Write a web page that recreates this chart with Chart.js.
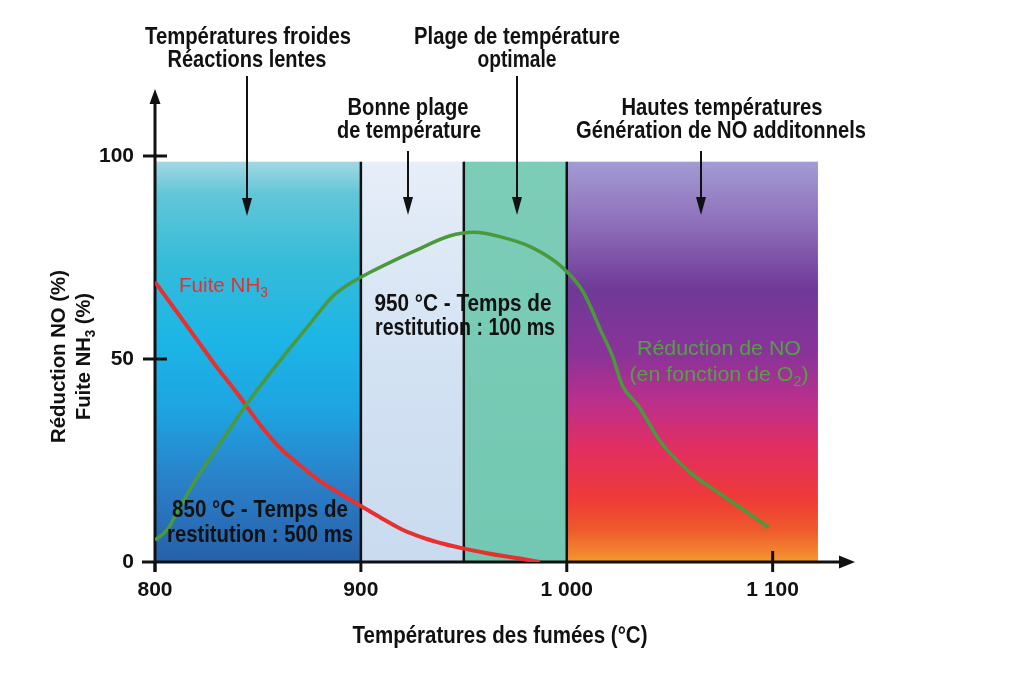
<!DOCTYPE html>
<html>
<head>
<meta charset="utf-8">
<script src="https://cdn.jsdelivr.net/npm/chart.js@4.4.0/dist/chart.umd.min.js"></script>
<style>
html,body{margin:0;padding:0;background:#fff;}
canvas{display:block;}
</style>
</head>
<body>
<canvas id="c" width="1024" height="683"></canvas>
<script>
// ---- Data ----
const nh3Temps  = [800, 810, 820, 830, 840, 850, 860, 870, 880, 890, 900, 910, 920, 930, 940, 950, 960, 970, 980, 987];
const nh3Values = [69, 62, 55, 48, 41.5, 34.5, 28.5, 24, 20, 16.8, 13.8, 10.8, 8, 6, 4.5, 3.3, 2.3, 1.4, 0.6, 0];

const noTemps  = [800, 806, 812, 822, 828, 834, 845, 861, 875, 886, 895, 905, 915, 927, 943, 955, 967, 983, 998, 1008, 1017, 1022, 1027, 1035, 1045, 1060, 1074, 1086, 1098];
const noValues = [5.4, 8, 13.5, 22, 26.5, 31, 39.2, 49.8, 58.5, 65.3, 68.7, 71.5, 74, 76.8, 80.3, 81.2, 80.2, 77.5, 72.5, 66.5, 56.5, 51, 43.5, 38.3, 30, 22, 17, 12.8, 8.5];

const xTickValues = [800, 900, 1000, 1100];
const xTickLabels = ['800', '900', '1 000', '1 100'];
const yTickValues = [0, 50, 100];
const yTickLabels = ['0', '50', '100'];

const zoneEdges = [800, 900, 950, 1000, 1122];
const zoneTop = 98.6;

const FONT = '"Liberation Sans", Arial, Helvetica, sans-serif';

function richWidth(ctx, segs, size, weight) {
  let w = 0;
  for (const s of segs) {
    ctx.font = `${weight} ${s.sub ? Math.round(size * 0.65) : size}px ${FONT}`;
    w += ctx.measureText(s.t).width;
  }
  return w;
}
function drawRich(ctx, segs, x, y, o) {
  const size = o.size || 23, weight = o.weight || 'bold';
  const nat = richWidth(ctx, segs, size, weight);
  const sx = o.w ? Math.min(1.15, o.w / nat) : 1;
  const total = nat * sx;
  const start = o.align === 'left' ? x : x - total / 2;
  ctx.save();
  ctx.translate(start, y);
  ctx.scale(sx, 1);
  ctx.fillStyle = o.color || '#111';
  ctx.textBaseline = 'alphabetic';
  ctx.textAlign = 'left';
  let cx = 0;
  for (const s of segs) {
    const fs = s.sub ? Math.round(size * 0.65) : size;
    ctx.font = `${weight} ${fs}px ${FONT}`;
    ctx.fillText(s.t, cx, s.sub ? size * 0.22 : 0);
    cx += ctx.measureText(s.t).width;
  }
  ctx.restore();
}
function drawArrowDown(ctx, x, y1, y2) {
  ctx.save();
  ctx.strokeStyle = '#111'; ctx.fillStyle = '#111'; ctx.lineWidth = 2;
  ctx.beginPath(); ctx.moveTo(x, y1); ctx.lineTo(x, y2 - 14); ctx.stroke();
  ctx.beginPath(); ctx.moveTo(x - 5, y2 - 18); ctx.lineTo(x + 5, y2 - 18); ctx.lineTo(x, y2); ctx.closePath(); ctx.fill();
  ctx.restore();
}

const backgroundPlugin = {
  id: 'bg',
  beforeDraw(chart) {
    const ctx = chart.ctx;
    ctx.save(); ctx.fillStyle = '#fff'; ctx.fillRect(0, 0, chart.width, chart.height); ctx.restore();
  },
  beforeDatasetsDraw(chart) {
    const ctx = chart.ctx, xs = chart.scales.x, ys = chart.scales.y;
    const top = ys.getPixelForValue(zoneTop), bot = ys.getPixelForValue(0);
    const px = zoneEdges.map(v => xs.getPixelForValue(v));
    ctx.save();
    // zone 1 : blue gradient
    let g = ctx.createLinearGradient(0, top, 0, bot);
    g.addColorStop(0, '#a3d8e3');
    g.addColorStop(0.08, '#62c6d8');
    g.addColorStop(0.25, '#35bcd9');
    g.addColorStop(0.45, '#1cb5e6');
    g.addColorStop(0.62, '#1ea4e1');
    g.addColorStop(0.8, '#2a80c8');
    g.addColorStop(1, '#2660aa');
    ctx.fillStyle = g; ctx.fillRect(px[0], top, px[1] - px[0], bot - top);
    // zone 2 : pale blue
    g = ctx.createLinearGradient(0, top, 0, bot);
    g.addColorStop(0, '#e6eef8');
    g.addColorStop(0.5, '#d3e2f3');
    g.addColorStop(1, '#c9dbef');
    ctx.fillStyle = g; ctx.fillRect(px[1], top, px[2] - px[1], bot - top);
    // zone 3 : teal
    g = ctx.createLinearGradient(0, top, 0, bot);
    g.addColorStop(0, '#7ccdb8');
    g.addColorStop(1, '#72c8b2');
    ctx.fillStyle = g; ctx.fillRect(px[2], top, px[3] - px[2], bot - top);
    // zone 4 : purple -> red -> orange
    g = ctx.createLinearGradient(0, top, 0, bot);
    g.addColorStop(0, '#a39bd3');
    g.addColorStop(0.15, '#8f70bb');
    g.addColorStop(0.32, '#6f3997');
    g.addColorStop(0.48, '#8a3399');
    g.addColorStop(0.6, '#bb2f8c');
    g.addColorStop(0.72, '#e22f60');
    g.addColorStop(0.84, '#ee3a38');
    g.addColorStop(0.92, '#ee5a2c');
    g.addColorStop(1, '#f3972f');
    ctx.fillStyle = g; ctx.fillRect(px[3], top, px[4] - px[3], bot - top);
    // boundaries
    ctx.strokeStyle = '#111'; ctx.lineWidth = 2.5;
    for (let i = 1; i <= 3; i++) {
      ctx.beginPath(); ctx.moveTo(px[i], top); ctx.lineTo(px[i], bot); ctx.stroke();
    }
    // axes
    const ox = xs.getPixelForValue(800), oy = bot;
    const axEndX = chart.chartArea.right, axEndY = chart.chartArea.top;
    ctx.lineWidth = 3;
    ctx.beginPath(); ctx.moveTo(ox - 13, oy); ctx.lineTo(axEndX - 10, oy); ctx.stroke();
    ctx.beginPath(); ctx.moveTo(ox, oy + 10); ctx.lineTo(ox, axEndY + 10); ctx.stroke();
    ctx.fillStyle = '#111';
    ctx.beginPath(); ctx.moveTo(axEndX, oy); ctx.lineTo(axEndX - 16, oy - 6.5); ctx.lineTo(axEndX - 16, oy + 6.5); ctx.closePath(); ctx.fill();
    ctx.beginPath(); ctx.moveTo(ox, axEndY); ctx.lineTo(ox - 5.5, axEndY + 15); ctx.lineTo(ox + 5.5, axEndY + 15); ctx.closePath(); ctx.fill();
    // tick marks
    for (const v of yTickValues) {
      if (v === 0) continue;
      const y = ys.getPixelForValue(v);
      ctx.beginPath(); ctx.moveTo(ox - 12, y); ctx.lineTo(ox + 12, y); ctx.stroke();
    }
    for (const v of xTickValues) {
      const x = xs.getPixelForValue(v);
      ctx.beginPath(); ctx.moveTo(x, v === 1100 ? oy - 11 : oy); ctx.lineTo(x, oy + 10); ctx.stroke();
    }
    ctx.restore();
  },
  afterDraw(chart) {
    const ctx = chart.ctx;
    // headers
    drawRich(ctx, [{t: 'Températures froides'}], 248, 44, {w: 206, size: 24});
    drawRich(ctx, [{t: 'Réactions lentes'}], 247, 67, {w: 159, size: 24});
    drawRich(ctx, [{t: 'Plage de température'}], 517, 44, {w: 206, size: 24});
    drawRich(ctx, [{t: 'optimale'}], 517, 67, {w: 79, size: 24});
    drawRich(ctx, [{t: 'Bonne plage'}], 408, 115, {w: 121, size: 24});
    drawRich(ctx, [{t: 'de température'}], 409, 138, {w: 144, size: 24});
    drawRich(ctx, [{t: 'Hautes températures'}], 722, 115, {w: 201, size: 24});
    drawRich(ctx, [{t: 'Génération de NO additonnels'}], 721, 138, {w: 290, size: 24});
    drawArrowDown(ctx, 247, 76, 216);
    drawArrowDown(ctx, 517, 76, 215);
    drawArrowDown(ctx, 408, 151, 215);
    drawArrowDown(ctx, 701, 151, 215);
    // inner notes
    drawRich(ctx, [{t: '950 °C - Temps de'}], 463, 311, {w: 177});
    drawRich(ctx, [{t: 'restitution : 100 ms'}], 465, 335, {w: 180});
    drawRich(ctx, [{t: '850 °C - Temps de'}], 260, 517, {w: 176});
    drawRich(ctx, [{t: 'restitution : 500 ms'}], 260, 542, {w: 186});
    // series labels
    drawRich(ctx, [{t: 'Fuite NH'}, {t: '3', sub: true}], 179, 292, {w: 89, size: 21, weight: 'normal', color: '#e5312f', align: 'left'});
    drawRich(ctx, [{t: 'Réduction de NO'}], 719, 355, {w: 164, size: 21, weight: 'normal', color: '#55a047'});
    drawRich(ctx, [{t: '(en fonction de O'}, {t: '2', sub: true}, {t: ')'}], 719, 381, {w: 179, size: 21, weight: 'normal', color: '#55a047'});
    // axis titles
    drawRich(ctx, [{t: 'Températures des fumées (°C)'}], 500, 643, {w: 295});
    ctx.save();
    ctx.translate(65, 356.5); ctx.rotate(-Math.PI / 2);
    drawRich(ctx, [{t: 'Réduction NO (%)'}], 0, 0, {w: 173, size: 21});
    ctx.restore();
    ctx.save();
    ctx.translate(90, 356.5); ctx.rotate(-Math.PI / 2);
    drawRich(ctx, [{t: 'Fuite NH'}, {t: '3', sub: true}, {t: ' (%)'}], 0, 0, {w: 127, size: 21});
    ctx.restore();
  }
};

const nh3Data = nh3Temps.map((t, i) => ({x: t, y: nh3Values[i]}));
const noData = noTemps.map((t, i) => ({x: t, y: noValues[i]}));

new Chart(document.getElementById('c'), {
  type: 'line',
  data: {
    datasets: [
      { label: 'Réduction de NO', data: noData, borderColor: '#4a9a3c', borderWidth: 3.5, pointRadius: 0, cubicInterpolationMode: 'monotone', fill: false },
      { label: 'Fuite NH3', data: nh3Data, borderColor: '#e8302f', borderWidth: 4, pointRadius: 0, cubicInterpolationMode: 'monotone', fill: false }
    ]
  },
  options: {
    responsive: false,
    animation: false,
    devicePixelRatio: 1,
    layout: { padding: { left: 0, right: 169, top: 89, bottom: 0 } },
    plugins: { legend: { display: false }, tooltip: { enabled: false }, title: { display: false } },
    scales: {
      x: {
        type: 'linear', min: 800, max: 1140,
        grid: { display: false, drawTicks: false }, border: { display: false },
        afterBuildTicks: s => { s.ticks = xTickValues.map(v => ({value: v})); },
        afterFit: s => { s.height = 121; },
        ticks: {
          padding: 16, color: '#111', maxRotation: 0,
          font: { family: FONT, size: 21, weight: 'bold' },
          callback: (v) => { const i = xTickValues.indexOf(v); return i >= 0 ? xTickLabels[i] : ''; }
        }
      },
      y: {
        type: 'linear', min: 0, max: 116.5,
        grid: { display: false, drawTicks: false }, border: { display: false },
        afterBuildTicks: s => { s.ticks = yTickValues.map(v => ({value: v})); },
        afterFit: s => { s.width = 155; },
        ticks: {
          padding: 21, color: '#111',
          font: { family: FONT, size: 21, weight: 'bold' },
          callback: (v) => { const i = yTickValues.indexOf(v); return i >= 0 ? yTickLabels[i] : ''; }
        }
      }
    }
  },
  plugins: [backgroundPlugin]
});
</script>
</body>
</html>
